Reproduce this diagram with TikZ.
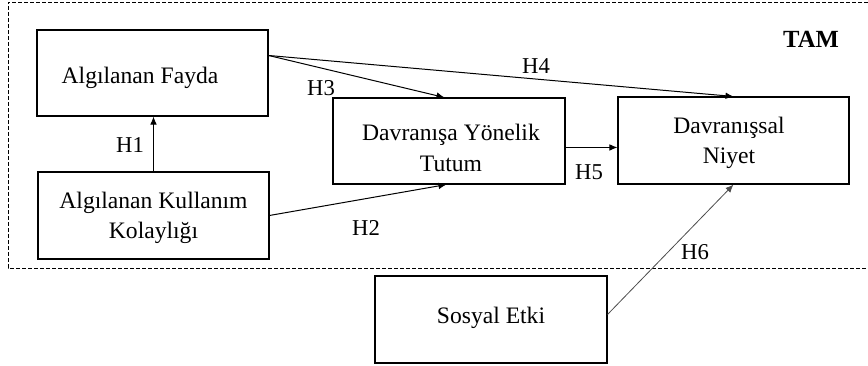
\documentclass[tikz,border=0pt]{standalone}
\usepackage{fontspec}
\setmainfont{Liberation Serif}
\usetikzlibrary{arrows.meta,fit,calc}
\begin{document}
\begin{tikzpicture}[x=0.75pt,y=-0.75pt,
  box/.style={draw, line width=0.8pt, inner sep=0pt},
  txt/.style={inner sep=0pt, align=center, font=\fontsize{17.7}{21}\selectfont},
  lbl/.style={font=\fontsize{17}{20}\selectfont, inner sep=0pt},
  arr/.style={line width=0.75pt, -{Latex[length=6pt,width=5pt]}},
  frame/.style={dashed, dash pattern=on 3pt off 1.5pt, line width=0.7pt}]
\useasboundingbox (0,0) rectangle (868,365);
\draw[frame] (868,2) -- (8,2) -- (8,268) -- (868,268);
\node[box, fit={(37,30) (268,116)}] (fayda) {};
\node[txt] (faydat) at (140,78) {Algılanan Fayda};
\node[box, fit={(38,172) (269,259)}] (kol) {};
\node[txt] (kolt) at (153.5,218) {Algılanan Kullanım\\[2pt]Kolaylığı};
\node[box, fit={(333,98) (565,184)}] (tutum) {};
\node[txt] (tutumt) at (451,148) {Davranışa Yönelik\\[2pt]Tutum};
\node[box, fit={(618,97) (849,184)}] (niyet) {};
\node[txt] (niyett) at (729,143) {Davranışsal\\[2pt]Niyet};
\node[box, fit={(375,276) (607,363)}] (sosyal) {};
\node[txt] (sosyalt) at (491,318) {Sosyal Etki};

\coordinate (fp) at ($(fayda.north east)+(0,26)$);
\draw[arr] (fp) -- ($(tutum.north west)+(112,0)$);
\draw[arr] (fp) -- (niyet.north);
\draw[arr] (kol.north) -- (kol.north|-fayda.south);
\draw[arr] ($(kol.north east)+(0,44)$) -- ($(tutum.south west)+(114,0)$);
\draw[arr] ($(tutum.north east)+(0,50)$) -- ($(niyet.north west)+(0,51)$);
\draw[arr, line width=0.6pt, draw=black!70] ($(sosyal.north east)+(0,39)$) -- (niyet.south);

\node[lbl] (h1) at (130,145) {H1};
\node[lbl] (h2) at (366,228) {H2};
\node[lbl] (h3) at (321,88) {H3};
\node[lbl] (h4) at (536,66) {H4};
\node[lbl] (h5) at (589,172) {H5};
\node[lbl] (h6) at (695,252) {H6};
\node[lbl, font=\fontsize{18.5}{21}\selectfont\bfseries] (tam) at (811,39) {TAM};
\end{tikzpicture}
\end{document}
